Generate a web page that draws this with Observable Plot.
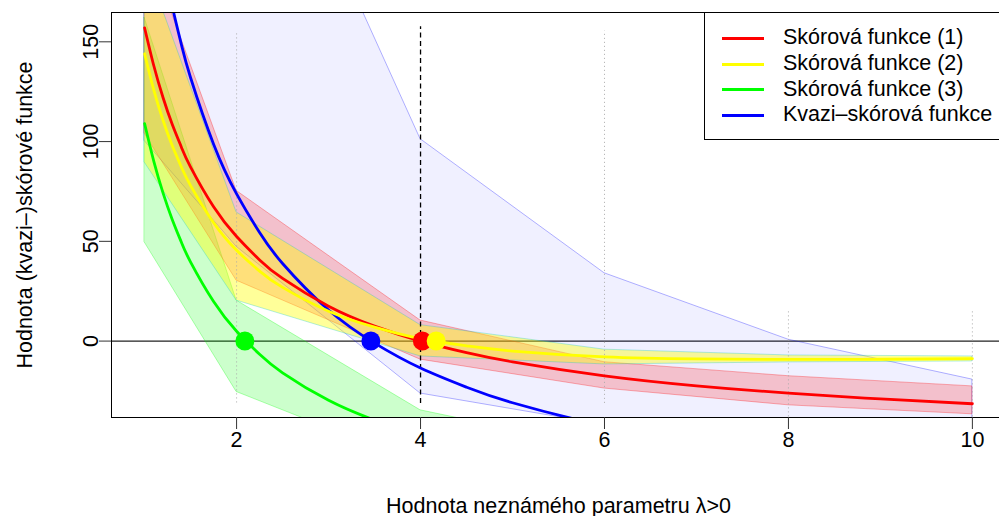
<!DOCTYPE html>
<html><head><meta charset="utf-8">
<script src="https://cdn.jsdelivr.net/npm/d3@7"></script>
<script src="https://cdn.jsdelivr.net/npm/@observablehq/plot@0.6"></script>
<style>
html,body{margin:0;padding:0;background:#fff;overflow:hidden;}
#wrap{position:relative;width:1010px;height:516px;}
#legend{position:absolute;left:704px;top:11.5px;width:330px;height:128px;border:1px solid #000;background:#fff;box-sizing:border-box;font-family:"Liberation Sans",Arial,Helvetica,sans-serif;font-size:21.5px;color:#000;}
#legend .ln{position:absolute;left:17px;width:42px;height:3px;}
#legend .tx{position:absolute;left:78px;line-height:1;white-space:nowrap;transform:translateY(-52%);}
</style>
</head><body>
<div id="wrap"><div id="legend"></div></div>
<script>
// ---- data ----
const lambda = [1, 1.1, 1.2, 1.3, 1.4, 1.5, 1.75, 2, 2.25, 2.5, 3, 3.5, 4, 4.5, 5, 6, 7, 8, 9, 10];
const score1 = [157.0, 138.0, 122.1, 108.7, 97.2, 87.2, 67.3, 52.4, 40.7, 31.4, 17.5, 7.5, 0.0, -5.8, -10.4, -17.4, -22.4, -26.1, -29.0, -31.4];
const score2 = [144.0, 125.8, 110.7, 98.0, 87.2, 77.9, 59.3, 45.5, 35.1, 26.9, 15.0, 7.0, 1.2, -2.4, -5.0, -7.9, -8.9, -9.2, -9.1, -8.8];
const score3 = [109.0, 90.1, 74.3, 61.0, 49.5, 39.6, 19.8, 4.9, -6.6, -15.9, -29.7, -39.6, -47.1, -52.9, -57.5, -64.4, -69.4, -73.1, -76.0, -78.3];
const quasi  = [248.3, 216.6, 190.1, 167.8, 148.6, 132.0, 98.7, 73.8, 54.4, 38.9, 15.6, -1.0, -13.5, -23.1, -30.9, -42.5, -50.8, -57.1, -61.9, -65.8];

const bandLambda = [1, 2, 4, 6, 8, 10];
const band1Upper = [202, 75.3, 10.3, -10.6, -17.6, -22.7];
const band1Lower = [104, 30.3, -9.3, -23.8, -32.2, -36.7];
const band2Upper = [191, 64.5, 8.0, -4.3, -7.2, -7.7];
const band2Lower = [89.5, 20.3, -7.7, -11.7, -10.7, -10.2];
const band3Upper = [162, 20.3, -34.7, -54, -60, -64];
const band3Lower = [49.5, -25.5, -62, -80, -88, -92];
const bandQUpper = [410, 305, 101.2, 34.0, 0.7, -19.3];
const bandQLower = [100.3, 47.3, -26.3, -42, -50, -55];

const roots = [2.09, 3.46, 4.02, 4.17];
const rootColors = ["#00ff00", "#0000ff", "#ff0000", "#ffff00"];

const seriesNames = ["Skórová funkce (1)", "Skórová funkce (2)", "Skórová funkce (3)", "Kvazi\u2013skórová funkce"];
const seriesColors = ["#ff0000", "#ffff00", "#00ff00", "#0000ff"];

const xTicks = [2, 4, 6, 8, 10];
const yTicks = [0, 50, 100, 150];
const xDomain = [0.64, 10.36];
const yDomain = [-38.3, 164.7];

const dottedX = [2, 6, 8, 10];
const dottedTop = [155.2, 155.4, 15.2, 15.2];
const dottedBottom = [-31.0, -31.2, -40, -40];
const dashedX = [4];
const dashedTop = [157.5];
const dashedBottom = [-31.3];

const xTitle = "Hodnota neznámého parametru \u03bb>0";
const yTitle = "Hodnota (kvazi\u2013)skórové funkce";

// ---- tables ----
const curve = (ys) => lambda.map((x, i) => ({x, y: ys[i]}));
const band = (lo, hi) => bandLambda.map((x, i) => ({x, lo: lo[i], hi: hi[i]}));
const rules = (xs, t, b) => xs.map((x, i) => ({x, y1: b[i], y2: t[i]}));

const font = '"Liberation Sans", Arial, Helvetica, sans-serif';

const chart = Plot.plot({
  width: 1010,
  height: 516,
  marginLeft: 111,
  marginRight: 5,
  marginTop: 12,
  marginBottom: 99,
  style: {fontFamily: font, fontSize: "21.5px", color: "black", background: "white", overflow: "visible"},
  x: {domain: xDomain},
  y: {domain: yDomain},
  marks: [
    Plot.ruleY([0], {stroke: "#222", strokeWidth: 1.4}),
    Plot.areaY(band(bandQLower, bandQUpper), {x: "x", y1: "lo", y2: "hi", fill: "#0000ff", fillOpacity: 0.06, stroke: "#0000ff", strokeOpacity: 0.3, strokeWidth: 1, clip: true}),
    Plot.areaY(band(band3Lower, band3Upper), {x: "x", y1: "lo", y2: "hi", fill: "#00ff00", fillOpacity: 0.2, stroke: "#00ff00", strokeOpacity: 0.3, strokeWidth: 1, clip: true}),
    Plot.areaY(band(band1Lower, band1Upper), {x: "x", y1: "lo", y2: "hi", fill: "#ff0000", fillOpacity: 0.2, stroke: "#ff0000", strokeOpacity: 0.3, strokeWidth: 1, clip: true}),
    Plot.areaY(band(band2Lower, band2Upper), {x: "x", y1: "lo", y2: "hi", fill: "#ffff00", fillOpacity: 0.4, stroke: "#00c8c8", strokeOpacity: 0.3, strokeWidth: 1, clip: true}),
    Plot.ruleX(rules(dottedX, dottedTop, dottedBottom), {x: "x", y1: "y1", y2: "y2", stroke: "#aaaaaa", strokeWidth: 1, strokeDasharray: "1,3", clip: true}),
    Plot.ruleX(rules(dashedX, dashedTop, dashedBottom), {x: "x", y1: "y1", y2: "y2", stroke: "black", strokeWidth: 1.3, strokeDasharray: "5,3.5", clip: true}),
    Plot.line(curve(score3), {x: "x", y: "y", stroke: "#00ff00", strokeWidth: 2.8, curve: "natural", clip: true}),
    Plot.line(curve(quasi), {x: "x", y: "y", stroke: "#0000ff", strokeWidth: 2.8, curve: "natural", clip: true}),
    Plot.line(curve(score1), {x: "x", y: "y", stroke: "#ff0000", strokeWidth: 2.8, curve: "natural", clip: true}),
    Plot.line(curve(score2), {x: "x", y: "y", stroke: "#ffff00", strokeWidth: 2.8, curve: "natural", clip: true}),
    Plot.dot(roots.map((x, i) => ({x, y: 0, c: rootColors[i]})), {x: "x", y: "y", r: 9.5, fill: "c", stroke: null}),
    Plot.frame({stroke: "black", strokeWidth: 1}),
    Plot.axisX(xTicks, {tickSize: 12, tickPadding: 2, label: null, stroke: "#333"}),
    Plot.axisY(yTicks, {tickSize: 12, tickPadding: 2, tickRotate: -90, label: null, stroke: "#333"}),
    Plot.text([xTitle], {x: (xDomain[0] + xDomain[1]) / 2, frameAnchor: "bottom", dy: 80, lineAnchor: "top", textAnchor: "middle", fontSize: 21.5}),
    Plot.text([yTitle], {y: (yDomain[0] + yDomain[1]) / 2, frameAnchor: "left", dx: -80, rotate: -90, lineAnchor: "bottom", textAnchor: "middle", fontSize: 21.5})
  ]
});

const wrap = document.getElementById("wrap");
wrap.insertBefore(chart, wrap.firstChild);

// legend
const legend = document.getElementById("legend");
seriesNames.forEach((name, i) => {
  const cy = 25.8 + 25.7 * i;
  const ln = document.createElement("div");
  ln.className = "ln";
  ln.style.top = (cy - 1.5) + "px";
  ln.style.background = seriesColors[i];
  legend.appendChild(ln);
  const tx = document.createElement("div");
  tx.className = "tx";
  tx.style.top = cy + "px";
  tx.textContent = name;
  legend.appendChild(tx);
});
</script>
</body></html>
